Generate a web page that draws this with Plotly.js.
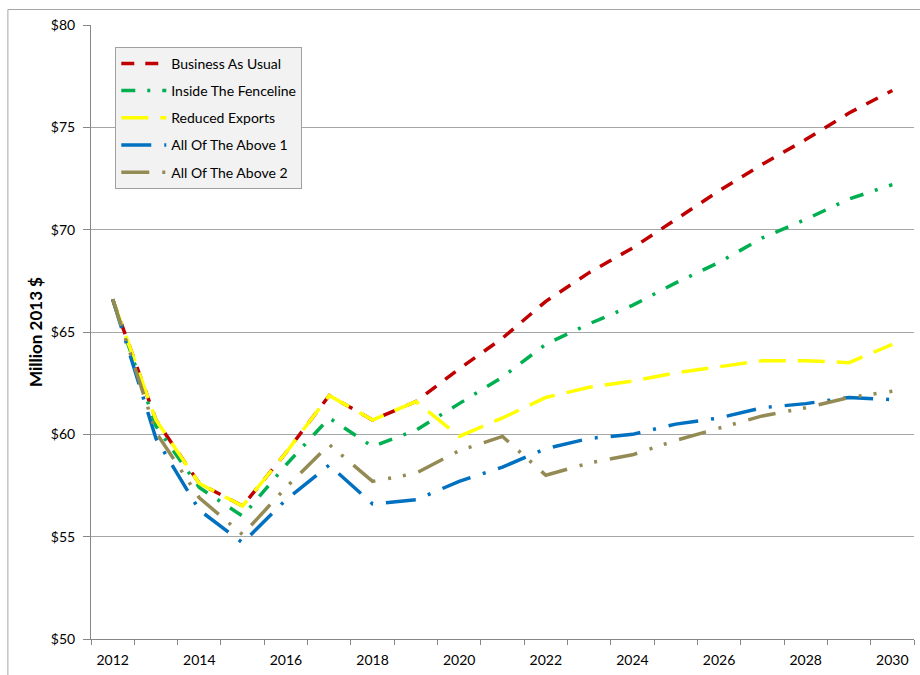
<!DOCTYPE html>
<html>
<head>
<meta charset="utf-8">
<script src="https://cdn.plot.ly/plotly-3.0.1.min.js"></script>
<style>
  html, body { margin: 0; padding: 0; background: #ffffff; }
  #chart { width: 920px; height: 675px; }
</style>
</head>
<body>
<div id="chart"></div>
<script>
const years = [2012, 2013, 2014, 2015, 2016, 2017, 2018, 2019, 2020, 2021, 2022, 2023, 2024, 2025, 2026, 2027, 2028, 2029, 2030];

const businessAsUsual = [66.6, 60.7, 57.6, 56.5, 59.1, 61.9, 60.7, 61.6, 63.2, 64.7, 66.5, 67.9, 69.1, 70.5, 71.9, 73.2, 74.4, 75.7, 76.8];
const insideFenceline = [66.6, 60.4, 57.4, 56.0, 58.5, 60.8, 59.4, 60.2, 61.5, 62.8, 64.4, 65.4, 66.3, 67.4, 68.4, 69.6, 70.5, 71.5, 72.2];
const reducedExports  = [66.6, 60.7, 57.6, 56.5, 59.1, 61.9, 60.7, 61.6, 59.9, 60.8, 61.8, 62.3, 62.6, 63.0, 63.3, 63.6, 63.6, 63.5, 64.4];
const allAbove1       = [66.6, 59.8, 56.3, 54.7, 56.8, 58.5, 56.6, 56.8, 57.7, 58.4, 59.3, 59.8, 60.0, 60.5, 60.8, 61.3, 61.5, 61.8, 61.7];
const allAbove2       = [66.6, 60.1, 56.9, 55.1, 57.4, 59.5, 57.7, 58.1, 59.2, 59.9, 58.0, 58.6, 59.0, 59.7, 60.3, 60.9, 61.3, 61.8, 62.1];

const seriesNames = ["Business As Usual", "Inside The Fenceline", "Reduced Exports", "All Of The Above 1", "All Of The Above 2"];
const yTickVals = [50, 55, 60, 65, 70, 75, 80];
const yTickText = ["$50", "$55", "$60", "$65", "$70", "$75", "$80"];
const xTickVals = [2012, 2014, 2016, 2018, 2020, 2022, 2024, 2026, 2028, 2030];
const xTickText = ["2012", "2014", "2016", "2018", "2020", "2022", "2024", "2026", "2028", "2030"];

const seriesData = [businessAsUsual, insideFenceline, reducedExports, allAbove1, allAbove2];
const colors = ["#c00000", "#00b050", "#ffff00", "#0070c0", "#948a54"];
const dashes = ["13px,11px", "14px,12px,3px,12px", "27px,12px", "30px,13px,3px,13px", "28px,13px,3px,12px,3px,13px"];

const traces = seriesData.map((vals, i) => ({
  x: years,
  y: vals,
  type: "scatter",
  mode: "lines",
  name: seriesNames[i],
  legendgroup: "g" + i,
  line: { color: colors[i], width: 3.5, dash: dashes[i] },
  hoverinfo: "x+y+name"
}));

const gridColor = "#a6a6a6";
const fontFam = "Lato, 'Open Sans', 'Liberation Sans', sans-serif";

const layout = {
  width: 920,
  height: 675,
  margin: { l: 91, r: 6, t: 25, b: 36, pad: 0 },
  paper_bgcolor: "#ffffff",
  plot_bgcolor: "#ffffff",
  font: { family: fontFam, size: 14, color: "#000000" },
  showlegend: true,
  legend: {
    x: 0.0295, y: 0.9645, xanchor: "left", yanchor: "top",
    bgcolor: "#f2f2f2",
    bordercolor: "#a0a0a0",
    borderwidth: 1,
    font: { family: fontFam, size: 14, color: "#000000" },
    itemwidth: 45,
    tracegroupgap: 6,
    traceorder: "grouped"
  },
  xaxis: {
    range: [2011.5, 2030.5],
    tickmode: "array",
    tickvals: xTickVals,
    ticktext: xTickText,
    ticks: "",
    ticklabelstandoff: 8,
    showgrid: false,
    zeroline: false,
    showline: true,
    linecolor: "#868686",
    linewidth: 1,
    tickfont: { family: fontFam, size: 14, color: "#000000" },
    minor: { tick0: 2011.5, dtick: 1, ticks: "outside", ticklen: 5, tickcolor: "#868686", showgrid: false },
    fixedrange: true
  },
  yaxis: {
    range: [50, 80],
    tickmode: "array",
    tickvals: yTickVals,
    ticktext: yTickText,
    ticks: "outside",
    ticklen: 7,
    tickcolor: "#868686",
    ticklabelstandoff: 5,
    showgrid: true,
    gridcolor: gridColor,
    gridwidth: 1,
    zeroline: false,
    showline: true,
    linecolor: "#868686",
    linewidth: 1,
    tickfont: { family: fontFam, size: 14, color: "#000000" },
    title: { text: "<b>Million 2013 $</b>", font: { family: fontFam, size: 17, color: "#000000" }, standoff: 3 },
    fixedrange: true
  },
  shapes: [
    {
      type: "rect", xref: "paper", yref: "paper",
      x0: -0.101, x1: 1.3, y0: -0.3, y1: 1.0252,
      line: { color: "#a6a6a6", width: 1 },
      fillcolor: "rgba(0,0,0,0)",
      layer: "below"
    }
  ]
};

Plotly.newPlot("chart", traces, layout, { staticPlot: true, displayModeBar: false });
</script>
</body>
</html>
